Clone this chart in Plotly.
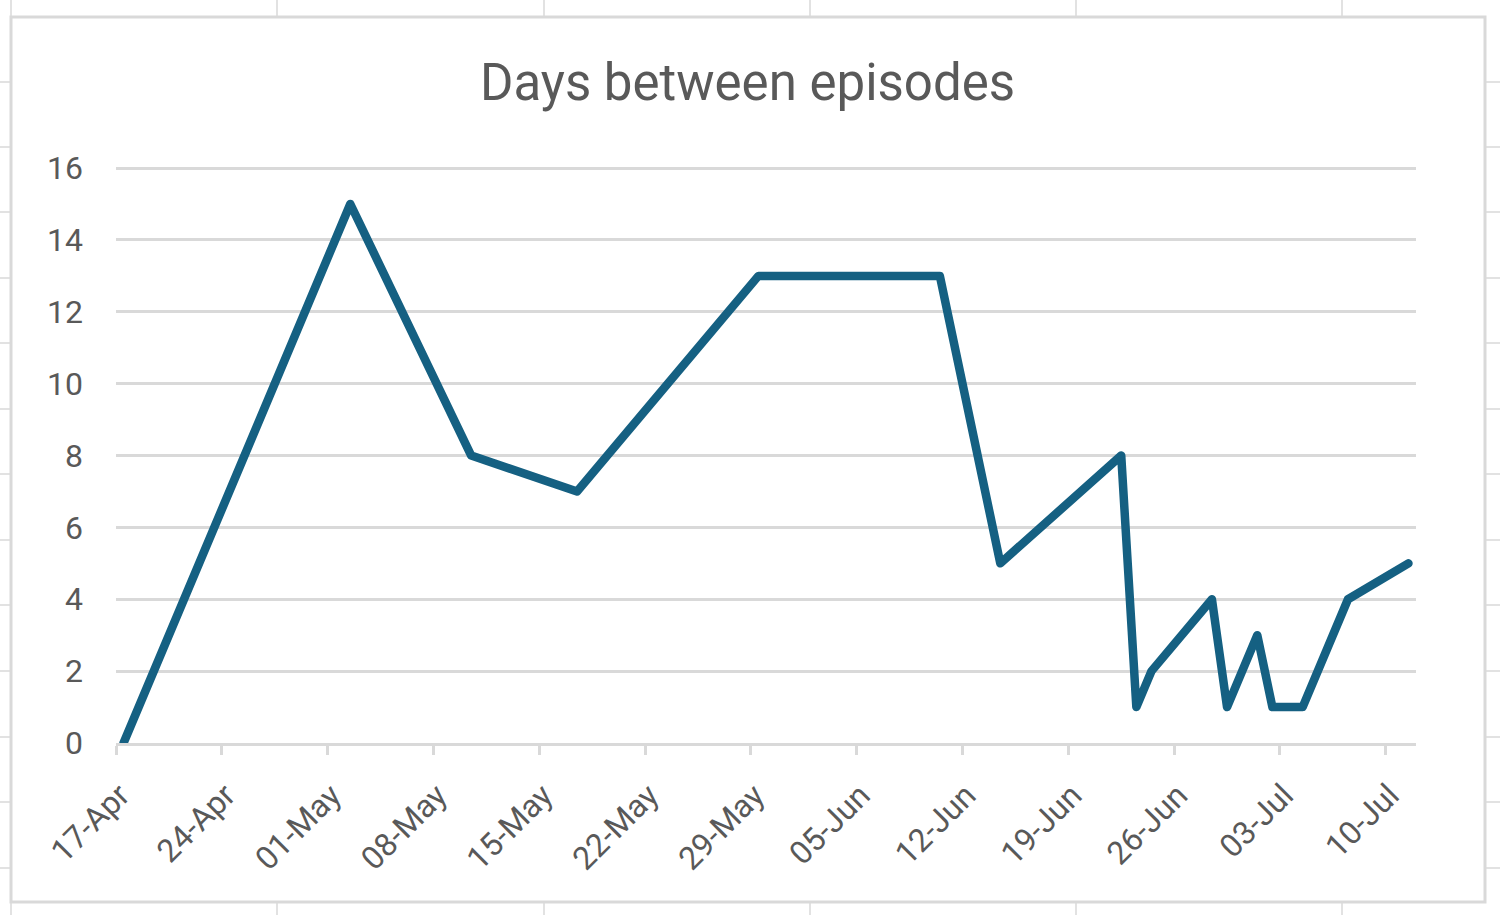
import pandas as pd
import plotly.graph_objects as go

# ---- data ----
episode_dates = ["2024-04-17", "2024-05-02", "2024-05-10", "2024-05-17", "2024-05-29",
                 "2024-06-10", "2024-06-14", "2024-06-22", "2024-06-23", "2024-06-24",
                 "2024-06-28", "2024-06-29", "2024-07-01", "2024-07-02", "2024-07-04",
                 "2024-07-07", "2024-07-11"]
days_between = [0, 15, 8, 7, 13, 13, 5, 8, 1, 2, 4, 1, 3, 1, 1, 4, 5]

tick_dates = ["2024-04-17", "2024-04-24", "2024-05-01", "2024-05-08", "2024-05-15",
              "2024-05-22", "2024-05-29", "2024-06-05", "2024-06-12", "2024-06-19",
              "2024-06-26", "2024-07-03", "2024-07-10"]
tick_labels = ["17-Apr", "24-Apr", "01-May", "08-May", "15-May", "22-May", "29-May",
               "05-Jun", "12-Jun", "19-Jun", "26-Jun", "03-Jul", "10-Jul"]
y_ticks = [0, 2, 4, 6, 8, 10, 12, 14, 16]

# Excel date axis puts each day's point in the middle of its day slot
x_pts = pd.to_datetime(episode_dates) + pd.Timedelta(hours=12)

W, H = 1500, 915
L, R, T, B = 116, 1416, 167, 743
PW, PH = R - L, B - T
Y_TOP = 16.03


def fx(px):
    return (px - L) / PW


def fy(py):
    return (B - py) / PH


TXT = "#595959"
GRID = "#D9D9D9"
SHEET = "#E2E2E2"

shapes = []
# spreadsheet cell grid behind the chart
for cx in [11, 277, 544, 810, 1076, 1342]:
    shapes.append(dict(type="line", xref="paper", yref="paper", layer="below",
                       x0=fx(cx), x1=fx(cx), y0=fy(0), y1=fy(H),
                       line=dict(color=SHEET, width=2)))
for ry in [82, 147, 212, 278, 343, 409, 474, 540, 605, 671, 737, 802, 868]:
    shapes.append(dict(type="line", xref="paper", yref="paper", layer="below",
                       x0=fx(0), x1=fx(W), y0=fy(ry), y1=fy(ry),
                       line=dict(color=SHEET, width=2)))
# chart area
shapes.append(dict(type="rect", xref="paper", yref="paper", layer="below",
                   x0=fx(11), x1=fx(1485), y0=fy(17), y1=fy(902),
                   fillcolor="white", line=dict(color=GRID, width=3)))

fig = go.Figure()
fig.add_trace(go.Scatter(
    x=x_pts, y=days_between, mode="lines",
    line=dict(color="#156082", width=8.5),
    hoverinfo="x+y", showlegend=False,
))

fig.update_layout(
    width=W, height=H,
    margin=dict(l=L, r=W - R, t=T, b=H - B, pad=0),
    paper_bgcolor="white",
    plot_bgcolor="rgba(0,0,0,0)",
    font=dict(family="Roboto", color=TXT),
    title=dict(text="Days between episodes", x=fx(747.5), xref="paper", xanchor="center",
               y=1 - 82 / H, yref="container", yanchor="middle",
               font=dict(size=51, color=TXT, family="Roboto")),
    shapes=shapes,
    xaxis=dict(
        type="date",
        range=["2024-04-17", "2024-07-12"],
        tickvals=tick_dates, ticktext=tick_labels, tickangle=-45,
        tickfont=dict(size=32, color=TXT),
        showgrid=False, zeroline=False,
        showline=True, linecolor=GRID, linewidth=2.5,
        ticks="outside", ticklen=9, tickwidth=2.5, tickcolor=GRID,
        ticklabelstandoff=9, ticklabelshift=4,
    ),
    yaxis=dict(
        range=[0, Y_TOP], tickvals=y_ticks,
        tickfont=dict(size=32, color=TXT),
        showgrid=True, gridcolor=GRID, gridwidth=2.5,
        zeroline=False, showline=False, ticks="",
        ticklabelstandoff=32,
    ),
)

post = (
    "document.body.style.margin='0';document.body.style.overflow='hidden';"
    "var s=document.createElement('style');"
    "s.textContent='.js-line{stroke-linejoin:round !important;stroke-linecap:round !important;}';"
    "document.head.appendChild(s);"
)
fig.write_html("out.html", post_script=post, config={"displayModeBar": False})
